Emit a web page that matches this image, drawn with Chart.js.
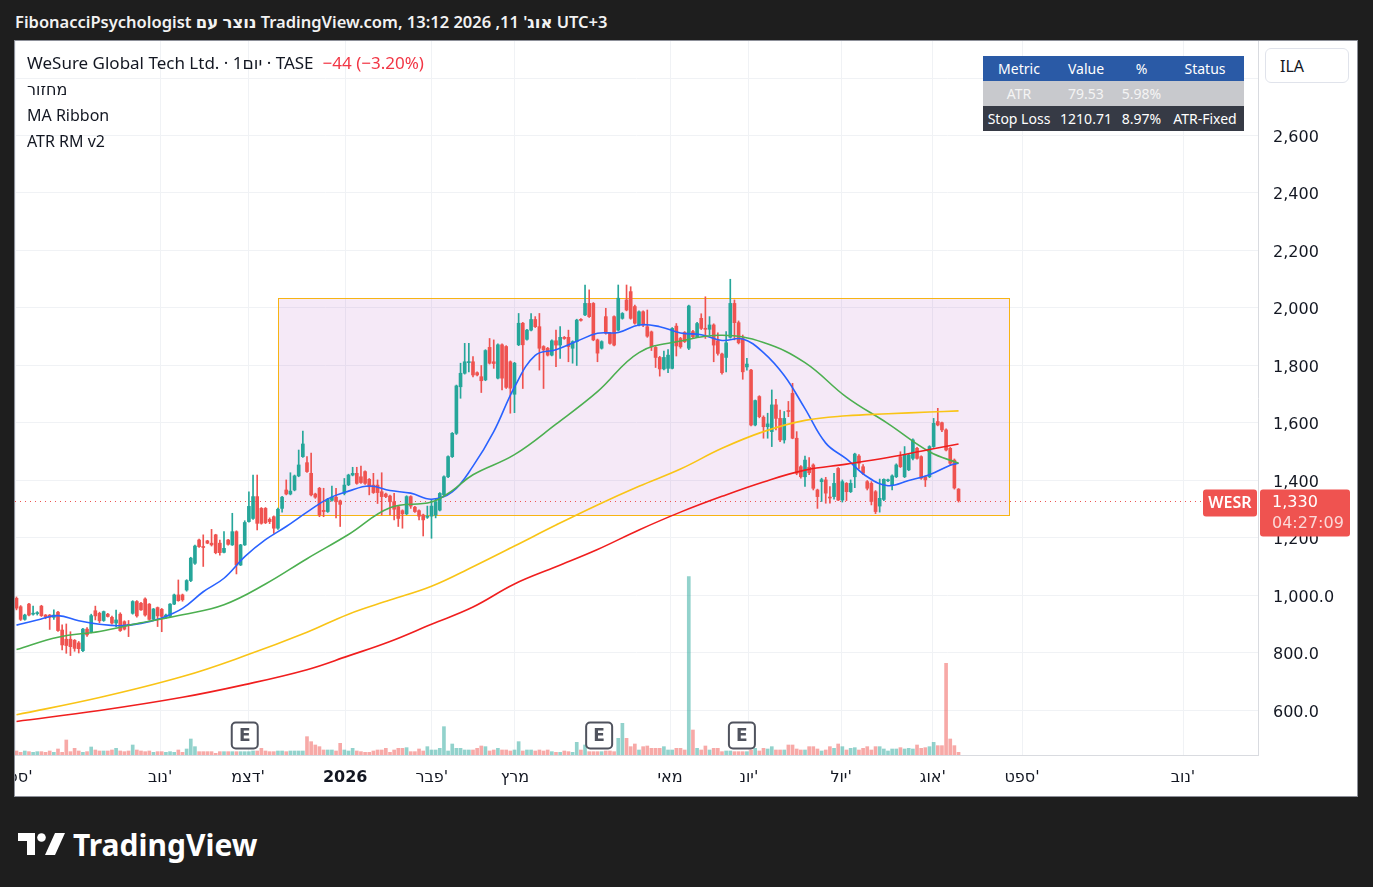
<!DOCTYPE html>
<html lang="en">
<head>
<meta charset="UTF-8">
<title>WESR - TASE</title>
<script src="https://cdn.jsdelivr.net/npm/chart.js"></script>
<style>
  body { margin: 0; width: 1373px; height: 887px; overflow: hidden; position: relative;
         background: #1e1e1e; font-family: "Noto Sans", "DejaVu Sans", sans-serif; }
  #top { position: absolute; left: 15px; top: 10px; color: #f2f2f2; font-size: 16.5px; font-weight: 600;
         line-height: 24px; white-space: nowrap; }
  #panel { position: absolute; left: 14px; top: 40px; width: 1342px; height: 755px;
           border: 1px solid #8d9099; background: #fff; }
  #wrap { position: absolute; left: 0; top: 0; width: 1342px; height: 755px; }
  #legend { position: absolute; left: 12px; top: 9px; color: #131722; font-size: 16px; line-height: 26px; white-space: nowrap; }
  #legend .l1 { font-size: 17px; }
  #legend .chg { color: #f23645; margin-left: 9px; }
  #tbl { position: absolute; left: 968px; top: 15px; border-collapse: collapse; font-size: 14px; }
  #tbl td { height: 25px; padding: 0; text-align: center; white-space: nowrap; }
  #ila { position: absolute; left: 1250px; top: 7px; width: 84px; height: 35px; border: 1px solid #e0e3eb;
         border-radius: 6px; background: #fff; color: #131722; font-size: 16px; line-height: 35px; padding-left: 14px; box-sizing: border-box; }
  #logo { position: absolute; left: 18px; top: 824px; color: #fff; font-size: 30px; font-weight: 700; display: flex; align-items: center; }
</style>
</head>
<body>
<div id="top">FibonacciPsychologist נוצר עם TradingView.com, אוג' 11, 2026 13:12 UTC+3</div>
<div id="panel">
  <div id="wrap"><canvas id="chart"></canvas></div>
  <div id="legend"></div>
  <table id="tbl"></table>
  <div id="ila">ILA</div>
</div>
<div id="logo">
  <svg width="47" height="24" viewBox="0 0 47 24" style="margin-right:8px">
    <path d="M0 0 H17 V22 H9 V8 H0 Z" fill="#fff"/>
    <circle cx="23.5" cy="4.5" r="4.3" fill="#fff"/>
    <path d="M37 0 H47 L37 22 H27 Z" fill="#fff"/>
  </svg>
  <span>TradingView</span>
</div>
<script>
// daily candles (bar index 0 = first visible bar)
const open = [
  990,961,917,970,935,937,963,932,932,924,
  942,880,848,848,844,835,808,883,874,947,
  938,913,935,924,904,935,909,900,938,979,
  973,988,970,917,958,952,924,927,970,1002,
  1002,1019,1052,1112,1193,1170,1190,1182,1211,1182,
  1150,1193,1176,1222,1106,1176,1257,1268,1344,1303,
  1303,1265,1274,1234,1303,1367,1353,1367,1416,1483,
  1462,1425,1353,1373,1296,1292,1331,1342,1329,1355,
  1385,1419,1425,1413,1431,1404,1384,1384,1361,1353,
  1346,1326,1309,1295,1284,1344,1307,1295,1280,1272,
  1276,1280,1297,1350,1413,1483,1564,1726,1773,1810,
  1813,1775,1761,1750,1863,1813,1756,1872,1866,1813,
  1700,1872,1947,1891,1923,1960,1935,1866,1860,1836,
  1886,1871,1898,1898,1860,1883,1960,1976,2016,2016,
  1889,1860,1970,1912,1970,1923,1964,2028,2057,2005,
  1941,1987,1935,1917,1863,1828,1788,1790,1790,1937,
  1894,1915,1860,1918,1900,1964,1929,1926,1941,1886,
  1840,1828,1898,2016,1949,1894,1795,1784,1593,1692,
  1620,1587,1570,1663,1616,1541,1643,1703,1547,1448,
  1413,1446,1454,1367,1396,1402,1342,1344,1442,1332,
  1390,1361,1413,1485,1448,1396,1390,1361,1311,1334,
  1399,1384,1413,1483,1413,1437,1477,1512,1483,1413,
  1413,1518,1605,1601,1576,1512,1471,1370
];
const high = [
  995,965,935,973,963,944,966,934,934,950,
  945,898,901,874,847,840,886,888,935,963,
  942,946,938,928,949,940,912,913,982,982,
  976,992,972,955,960,955,935,972,1005,1054,
  1005,1055,1133,1175,1196,1211,1192,1230,1213,1193,
  1222,1195,1286,1225,1178,1260,1361,1419,1419,1306,
  1306,1270,1277,1304,1345,1402,1427,1419,1506,1572,
  1483,1495,1356,1376,1373,1338,1381,1373,1332,1407,
  1422,1446,1446,1450,1434,1407,1425,1402,1427,1356,
  1349,1355,1312,1298,1347,1347,1310,1298,1283,1311,
  1334,1335,1358,1416,1486,1567,1732,1808,1877,1877,
  1831,1778,1800,1855,1894,1889,1875,1875,1869,1816,
  1811,1981,1950,1926,1981,1970,1981,1869,1863,1889,
  1923,1935,1901,1923,1886,1961,1963,2080,2063,2019,
  1892,1886,1999,1915,1973,2080,1984,2080,2074,2010,
  1990,1990,1993,1920,1866,1832,1850,1855,1932,1946,
  1898,1918,2010,1922,1950,1980,2039,1970,1945,1914,
  1843,1918,2100,2028,1955,1906,1825,1787,1680,1695,
  1625,1634,1715,1682,1645,1640,1675,1738,1570,1452,
  1485,1480,1458,1370,1408,1411,1379,1425,1445,1402,
  1393,1402,1495,1490,1455,1400,1396,1365,1405,1406,
  1405,1420,1458,1500,1518,1492,1545,1515,1486,1416,
  1521,1616,1651,1603,1580,1515,1475,1372
];
const low = [
  950,913,914,929,932,932,927,919,882,917,
  875,811,799,791,806,800,805,858,870,915,
  905,910,925,900,891,875,880,857,935,925,
  948,928,915,915,892,874,920,925,968,980,
  980,1015,1048,1108,1167,1101,1180,1172,1145,1140,
  1148,1175,1174,1075,1104,1174,1255,1265,1228,1248,
  1250,1250,1216,1230,1290,1350,1350,1364,1413,1480,
  1428,1346,1338,1274,1274,1289,1328,1270,1240,1350,
  1382,1416,1387,1390,1386,1350,1355,1320,1280,1340,
  1280,1263,1240,1234,1281,1303,1289,1263,1207,1268,
  1199,1270,1294,1347,1410,1480,1560,1686,1770,1778,
  1760,1764,1706,1747,1805,1790,1753,1715,1720,1634,
  1636,1869,1720,1888,1920,1932,1784,1720,1833,1833,
  1796,1825,1891,1813,1808,1800,1954,1973,1967,1886,
  1813,1857,1909,1874,1868,1920,1961,1990,1961,1944,
  1938,1935,1898,1852,1793,1763,1785,1775,1788,1833,
  1860,1880,1855,1896,1898,1925,1894,1906,1813,1836,
  1770,1778,1895,1889,1875,1752,1784,1590,1590,1618,
  1547,1547,1518,1576,1535,1530,1622,1545,1420,1408,
  1379,1420,1367,1303,1327,1321,1321,1335,1330,1325,
  1330,1358,1375,1440,1420,1367,1315,1285,1290,1330,
  1396,1367,1410,1445,1410,1434,1472,1474,1404,1379,
  1410,1515,1590,1570,1503,1455,1370,1325
];
const close = [
  956,917,932,932,938,939,930,926,924,932,
  878,828,826,822,816,815,883,863,930,929,
  912,944,927,904,915,878,883,895,979,929,
  950,932,917,953,929,927,932,970,1002,982,
  985,1052,1130,1172,1170,1167,1182,1176,1149,1149,
  1164,1178,1222,1106,1176,1254,1310,1344,1251,1251,
  1253,1257,1234,1300,1342,1353,1363,1416,1454,1527,
  1431,1350,1342,1280,1292,1335,1342,1326,1317,1384,
  1419,1425,1390,1393,1390,1378,1358,1358,1344,1344,
  1326,1300,1268,1284,1344,1311,1292,1276,1263,1276,
  1311,1326,1355,1413,1483,1564,1729,1773,1813,1813,
  1767,1767,1747,1852,1808,1807,1872,1756,1724,1721,
  1808,1947,1872,1923,1960,1935,1860,1854,1836,1886,
  1871,1898,1894,1866,1883,1958,1957,2016,1970,1889,
  1843,1883,1912,1877,1871,2034,1981,1993,1964,1947,
  1987,1941,1902,1865,1828,1788,1828,1836,1929,1868,
  1865,1883,2007,1900,1946,1929,1926,1941,1871,1842,
  1775,1879,2016,1949,1879,1778,1805,1593,1678,1622,
  1587,1597,1663,1616,1541,1616,1640,1547,1425,1413,
  1471,1427,1373,1344,1403,1356,1339,1390,1332,1396,
  1361,1390,1492,1460,1425,1373,1327,1292,1338,1404,
  1402,1416,1454,1448,1489,1489,1541,1477,1408,1402,
  1518,1599,1593,1576,1506,1460,1374,1330
];
// volume, relative units
const volume = [
  12,8,12,10,8,10,10,8,12,8,
  18,8,45,10,20,12,8,10,24,15,
  12,12,12,15,20,12,10,12,30,15,
  12,10,12,8,10,10,8,10,8,15,
  8,18,48,25,10,10,10,10,5,10,
  10,10,10,10,10,10,10,12,12,20,
  12,10,10,12,12,10,12,12,12,12,
  55,40,30,25,15,15,15,12,35,15,
  12,20,12,10,8,8,12,15,15,20,
  8,15,20,20,22,10,10,18,12,25,
  15,15,20,85,12,33,20,20,15,15,
  15,20,27,25,12,15,20,15,15,12,
  15,40,12,15,15,12,15,12,15,10,
  8,8,12,10,8,38,15,30,10,10,
  10,10,12,12,10,50,95,50,25,33,
  15,25,27,20,20,20,25,15,15,20,
  20,15,535,75,20,15,27,15,20,20,
  10,12,12,10,10,10,10,15,20,12,
  20,18,25,15,15,15,30,30,18,15,
  15,25,25,18,12,15,25,20,33,25,
  15,20,22,15,20,25,15,25,25,18,
  12,18,18,22,18,20,18,30,20,22,
  25,38,28,28,275,48,28,8
];

// MA Ribbon lines
const blueIdx = [0,5,10,15,20,25,30,35,40,45,50,55,60,65,70,75,80,85,90,95,100,105,110,115,120,125,130,135,140,145,150,155,160,165,170,175,180,185,190,195,200,205,210,215,220,225,227];
const blueVal = [897,915,930,912,900,895,903,922,955,1013,1060,1135,1194,1240,1290,1336,1363,1381,1365,1356,1335,1360,1450,1570,1725,1835,1855,1884,1912,1915,1941,1935,1913,1907,1887,1892,1845,1765,1650,1530,1475,1413,1382,1400,1420,1453,1460];
const greenIdx = [0,10,20,30,40,50,60,70,80,90,100,105,110,120,130,140,150,160,170,180,190,200,210,220,227];
const greenVal = [812,855,875,905,933,968,1040,1128,1212,1305,1325,1365,1420,1490,1596,1709,1845,1885,1905,1880,1810,1690,1598,1500,1460];
const slowIdx = [0,20,40,55,70,80,90,100,110,120,130,140,150,160,170,180,190,200,210,220,227];
const yellowVal = [585,645,718,790,872,935,984,1032,1100,1172,1245,1315,1380,1440,1512,1570,1609,1625,1632,1638,1642];
const redVal = [562,600,646,690,742,790,840,900,960,1040,1100,1160,1228,1290,1345,1395,1436,1457,1480,1508,1527];

// axes
const priceTicks = [600, 800, 1000, 1200, 1400, 1600, 1800, 2000, 2200, 2400, 2600, 2800];
const monthIdx = [-0.36, 34.6, 55.8, 79.2, 100.1, 120.1, 157.5, 176.5, 198.7, 220.8, 242.3, 281.1];
const monthLabels = ["ספט'", "נוב'", "דצמ'", "2026", "פבר'", "מרץ", "מאי", "יונ'", "יול'", "אוג'", "ספט'", "נוב'"];

// drawings and annotations
const earningsIdx = [55, 140.4, 174.8];
const boxFrom = 63, boxTo = 239.2, boxHigh = 2035, boxLow = 1280;
const countdown = "04:27:09";
const tableHead = ["Metric", "Value", "%", "Status"];
const tableRows = [["ATR", "79.53", "5.98%", ""], ["Stop Loss", "1210.71", "8.97%", "ATR-Fixed"]];

const UP = '#26a69a', DOWN = '#ef5350';
const n = close.length;
const last = close[n - 1], prev = close[n - 2];

// legend
const chg = last - prev;
const pct = (chg / prev * 100).toFixed(2);
const minus = s => String(s).replace('-', '\u2212');
document.getElementById('legend').innerHTML =
  '<div class="l1">WeSure Global Tech Ltd. · 1יום · TASE<span class="chg">' + minus(chg) + ' (' + minus(pct) + '%)</span></div>' +
  '<div>מחזור</div><div>MA Ribbon</div><div>ATR RM v2</div>';

// table
const colW = [72, 62, 49, 78];
const tbl = document.getElementById('tbl');
let html = '<tr style="background:#2a5aa6;color:#fff">' + tableHead.map((h, i) => '<td style="width:' + colW[i] + 'px">' + h + '</td>').join('') + '</tr>';
html += '<tr style="background:#c8c9cd;color:#f4f4f4">' + tableRows[0].map(c => '<td>' + c + '</td>').join('') + '</tr>';
html += '<tr style="background:#363a45;color:#fff">' + tableRows[1].map(c => '<td>' + c + '</td>').join('') + '</tr>';
tbl.innerHTML = html;

const idx = close.map((_, i) => i);
const dirColor = (i, a) => close[i] >= open[i] ? (a ? 'rgba(38,166,154,' + a + ')' : UP) : (a ? 'rgba(239,83,80,' + a + ')' : DOWN);

// 2,800 sits under the ILA box
const fmtPrice = v => v >= 2800 ? '' : v >= 1100 ? v.toLocaleString('en-US') : v.toLocaleString('en-US', { minimumFractionDigits: 1 });

const overlay = {
  id: 'overlay',
  beforeDatasetsDraw(chart) {
    const { ctx, chartArea: a, scales: { x, y } } = chart;
    const x1 = x.getPixelForValue(boxFrom), x2 = x.getPixelForValue(boxTo);
    const y1 = y.getPixelForValue(boxHigh), y2 = y.getPixelForValue(boxLow);
    ctx.save();
    ctx.fillStyle = 'rgba(156,39,176,0.1)';
    ctx.fillRect(x1, y1, x2 - x1, y2 - y1);
    ctx.strokeStyle = '#f7b414';
    ctx.lineWidth = 1;
    ctx.strokeRect(Math.round(x1) + 0.5, Math.round(y1) + 0.5, Math.round(x2 - x1), Math.round(y2 - y1));
    // last price line
    const py = Math.round(y.getPixelForValue(last)) + 0.5;
    ctx.strokeStyle = DOWN;
    ctx.setLineDash([1, 4]);
    ctx.beginPath();
    ctx.moveTo(a.left, py);
    ctx.lineTo(a.right - 56, py);
    ctx.stroke();
    ctx.restore();
  },
  afterDatasetsDraw(chart) {
    const { ctx, chartArea: a, scales: { x } } = chart;
    ctx.save();
    earningsIdx.forEach(e => {
      const cx = x.getPixelForValue(e), cy = a.bottom - 19.5;
      ctx.beginPath();
      ctx.roundRect(cx - 13, cy - 13, 26, 26, 4);
      ctx.fillStyle = '#fff';
      ctx.fill();
      ctx.lineWidth = 2;
      ctx.strokeStyle = '#50535e';
      ctx.stroke();
      ctx.fillStyle = '#50535e';
      ctx.font = 'bold 17px "DejaVu Sans"';
      ctx.textAlign = 'center';
      ctx.textBaseline = 'middle';
      ctx.fillText('E', cx, cy + 1);
    });
    ctx.restore();
  },
  afterDraw(chart) {
    const { ctx, chartArea: a, scales: { y } } = chart;
    const cy = y.getPixelForValue(last);
    ctx.save();
    ctx.fillStyle = DOWN;
    ctx.beginPath();
    ctx.roundRect(a.right - 55, cy - 11, 54, 27, 3);
    ctx.fill();
    ctx.beginPath();
    ctx.roundRect(a.right + 2, cy - 11, 90, 47, 3);
    ctx.fill();
    ctx.fillStyle = '#fff';
    ctx.textBaseline = 'middle';
    ctx.textAlign = 'center';
    ctx.font = '600 16px "Noto Sans"';
    ctx.fillText('WESR', a.right - 28, cy + 2.5);
    ctx.textAlign = 'left';
    ctx.font = '16px "DejaVu Sans"';
    ctx.fillText(last.toLocaleString('en-US'), a.right + 14, cy + 2.5);
    ctx.fillStyle = 'rgba(255,255,255,0.78)';
    ctx.fillText(countdown, a.right + 14, cy + 23);
    ctx.restore();
  }
};

const lineSet = (xs, ys, color) => ({
  type: 'line', data: xs.map((v, i) => ({ x: v, y: ys[i] })), yAxisID: 'y',
  borderColor: color, borderWidth: 1.6, pointRadius: 0, tension: 0.4, fill: false, order: 0
});

new Chart(document.getElementById('chart'), {
  type: 'bar',
  data: {
    datasets: [
      lineSet(slowIdx, redVal, '#f01e1e'),
      lineSet(slowIdx, yellowVal, '#f9c416'),
      lineSet(greenIdx, greenVal, '#4caf50'),
      lineSet(blueIdx, blueVal, '#2962ff'),
      { data: idx.map(i => ({ x: i, y: [open[i], close[i]] })), yAxisID: 'y', grouped: false,
        barThickness: 3, minBarLength: 1, backgroundColor: idx.map(i => dirColor(i)), order: 1 },
      { data: idx.map(i => ({ x: i, y: [low[i], high[i]] })), yAxisID: 'y', grouped: false,
        barThickness: 1, backgroundColor: idx.map(i => dirColor(i)), order: 2 },
      { data: idx.map(i => ({ x: i, y: volume[i] })), yAxisID: 'yv', grouped: false,
        barThickness: 3, backgroundColor: idx.map(i => dirColor(i, 0.5)), order: 3 }
    ]
  },
  options: {
    responsive: true,
    maintainAspectRatio: false,
    animation: false,
    events: [],
    layout: { padding: 0 },
    plugins: { legend: { display: false }, tooltip: { enabled: false } },
    scales: {
      x: {
        type: 'linear', min: -0.36, max: 299.16, offset: false,
        afterBuildTicks: s => { s.ticks = monthIdx.map(v => ({ value: v })); },
        afterFit: s => { s.height = 41; s.paddingLeft = 0; s.paddingRight = 0; },
        grid: { color: '#f0f2f5', drawTicks: false, offset: false },
        border: { color: '#d9dbe0' },
        ticks: {
          autoSkip: false, maxRotation: 0, padding: 13, color: '#131722',
          font: c => ({ family: 'DejaVu Sans', size: 16, weight: c.tick && c.tick.value === monthIdx[3] ? 'bold' : 'normal' }),
          callback: (v, i) => monthLabels[i]
        }
      },
      y: {
        position: 'right', min: 445.2, max: 2928.7,
        afterBuildTicks: s => { s.ticks = priceTicks.map(v => ({ value: v })); },
        afterFit: s => { s.width = 99; s.paddingTop = 0; s.paddingBottom = 0; },
        grid: { color: '#f0f2f5', drawTicks: false },
        border: { color: '#d9dbe0' },
        ticks: { padding: 15, labelOffset: 2, color: '#131722', font: { family: 'DejaVu Sans', size: 16 }, callback: v => fmtPrice(v) }
      },
      yv: { display: false, min: 0, max: 2142 }
    }
  },
  plugins: [overlay]
});
</script>
</body>
</html>
